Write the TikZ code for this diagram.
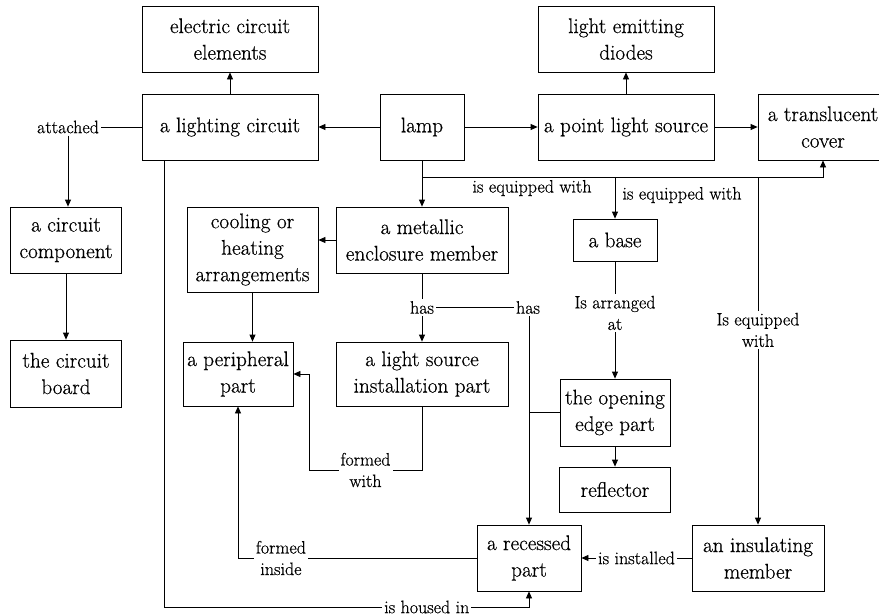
\documentclass[tikz,border=0pt]{standalone}
\usepackage{fontspec}
\setmainfont{Latin Modern Roman}[FakeBold=0.5]
\usetikzlibrary{arrows.meta,calc}
\begin{document}
\begin{tikzpicture}[x=1pt,y=-1pt,
  box/.style={draw, line width=0.8pt, align=center, inner sep=0pt, font=\fontsize{21.2}{26.5}\selectfont},
  lbl/.style={fill=white, inner sep=2pt, align=center, font=\fontsize{18}{21.5}\selectfont},
  plainlbl/.style={inner sep=0pt, align=center, font=\fontsize{18}{21.5}\selectfont},
  arr/.style={line width=0.8pt, -{Triangle[length=7pt,width=6pt]}},
  ln/.style={line width=0.8pt}]
\useasboundingbox (0,0) rectangle (879,616);
\clip (0,0) rectangle (879,616);

% boxes
\node[box, minimum width=176pt, minimum height=66pt] (ece) at (230,39) {electric circuit\\elements};
\node[box, minimum width=176pt, minimum height=66pt] (lc) at (230,127) {a lighting circuit};
\node[box, minimum width=84pt, minimum height=66pt] (lamp) at (422,127) {lamp};
\node[box, minimum width=176pt, minimum height=66pt] (led) at (626,39) {light emitting\\diodes};
\node[box, minimum width=176pt, minimum height=66pt] (pls) at (626,127) {a point light source};
\node[box, minimum width=130pt, minimum height=66pt] (tc) at (823,127) {a translucent\\cover};
\node[box, minimum width=111pt, minimum height=66pt] (cc) at (66,240) {a circuit\\component};
\node[box, minimum width=111pt, minimum height=67pt] (cb) at (66,373.5) {the circuit\\board};
\node[box, minimum width=131pt, minimum height=85pt] (coh) at (252.5,249.5) {cooling or\\heating\\arrangements};
\node[box, minimum width=172pt, minimum height=66pt] (mem) at (422,240) {a metallic\\enclosure member};
\node[box, minimum width=84pt, minimum height=42pt] (base) at (615,240) {a base};
\node[box, minimum width=110pt, minimum height=64pt] (pp) at (238,374) {a peripheral\\part};
\node[box, minimum width=172pt, minimum height=64pt] (lsip) at (422,374) {a light source\\installation part};
\node[box, minimum width=110pt, minimum height=67pt] (oep) at (615,412.5) {the opening\\edge part};
\node[box, minimum width=111pt, minimum height=45pt] (refl) at (615,489.5) {reflector};
\node[box, minimum width=104pt, minimum height=66pt] (rp) at (529,558) {a recessed\\part};
\node[box, minimum width=132pt, minimum height=66pt] (im) at (758,558) {an insulating\\member};

% top row
\draw[arr] (lamp.west) -- (lc.east);
\draw[arr] (lamp.east) -- (pls.west);
\draw[arr] (pls.east) -- (tc.west);
\draw[arr] (lc.north) -- (ece.south);
\draw[arr] (pls.north) -- (led.south);

% lamp equipment bus
\coordinate (j) at (422,177);
\draw[arr] (lamp.south) -- (mem.north);
\draw[arr] (lamp.south |- j) -| (tc.south);
\node[plainlbl] (eq1) at (532,188) {is equipped with};
\draw[arr] (base.north |- j) -- (base.north);
\node[plainlbl] (eq2) at (682,195) {is equipped with};
\draw[arr] (im.north |- j) -- node[lbl, pos=0.44] {Is equipped\\with} (im.north);

% metallic enclosure
\draw[arr] (mem.west) -- (mem.west -| coh.east);
\draw[arr] (coh.south) -- (coh.south |- pp.north);
\draw[arr] (mem.south) -- node[lbl] (hasA) {has} (lsip.north);
\node[lbl] (hasB) at (528,307.5) {has};
\draw[ln] (hasA.east) -- (hasB.west);
\draw[arr] (rp.north |- hasB.south) -- (rp.north);

% base / opening edge
\draw[arr] (base.south) -- node[lbl, pos=0.44] {Is arranged\\at} (oep.north);
\draw[arr] (oep.south) -- (refl.north);
\draw[ln] (oep.west) -- (oep.west -| rp.north);

% formed with
\coordinate (fw) at (309,470);
\draw[arr] (lsip.south) |- node[lbl, pos=0.75] {formed\\with} (fw) |- (pp.east);

% formed inside
\draw[arr] (rp.west) -| node[lbl, pos=0.41] {formed\\inside} (pp.south);

% is housed in
\coordinate (hb) at (164,607);
\draw[arr] (lc.south -| hb) -- (hb) -| node[lbl, pos=0.36] {is housed in} (rp.south);

% is installed
\draw[arr] (im.west) -- node[lbl] {is installed} (rp.east);

% attached
\node[lbl] (att) at (68,127) {attached};
\draw[ln] (lc.west) -- (att.east);
\draw[arr] (att.south) -- (att.south |- cc.north);
\draw[arr] (cc.south) -- (cb.north);
\end{tikzpicture}
\end{document}
